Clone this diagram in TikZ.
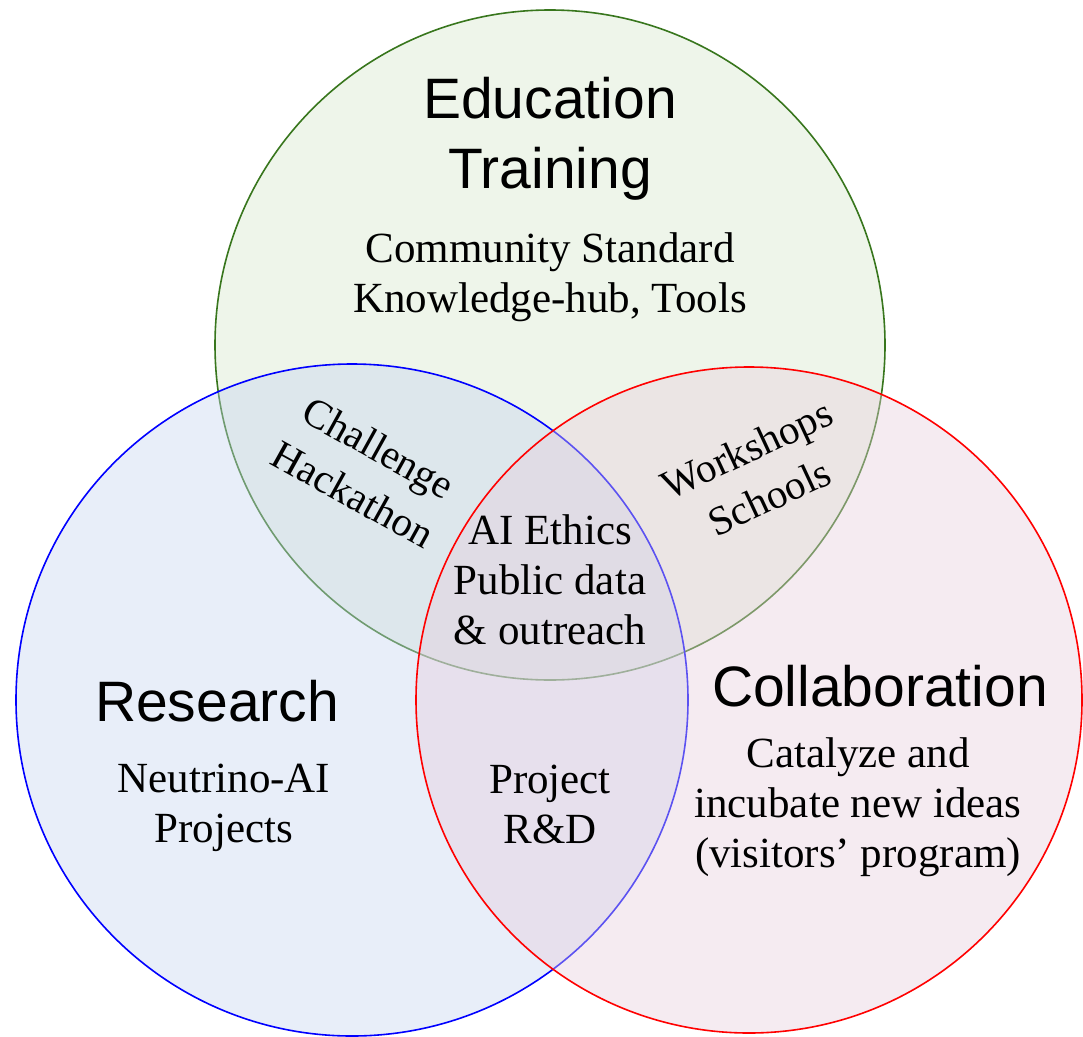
\documentclass[tikz,border=0pt]{standalone}
\usepackage{fontspec}
\setmainfont{Liberation Serif}
\setsansfont{Liberation Sans}
\definecolor{eduline}{RGB}{56,118,29}
\definecolor{edufill}{RGB}{212,230,202}
\definecolor{resfill}{RGB}{197,212,240}
\definecolor{colfill}{RGB}{230,205,220}
\begin{document}
\begin{tikzpicture}[x=1pt,y=-1pt,
        area/.style={line width=1.6pt, fill opacity=0.4},
        title/.style={font=\sffamily\fontsize{57}{70}\selectfont, align=center},
        body/.style={font=\fontsize{43}{50}\selectfont, align=center},
        tilted/.style={font=\fontsize{41}{53}\selectfont, align=center}]
        \useasboundingbox (0,0) rectangle (1083,1036);
        
        % Circles
        \draw[area, draw=eduline, fill=edufill] (550,345) circle[radius=335pt];
        \draw[area, draw=blue, fill=resfill] (352,700) circle[radius=336pt];
        \draw[area, draw=red, fill=colfill] (749,700) circle[radius=333pt];
        
        % Education
        \node[title] (edutitle) at (550,138.5) {Education\\Training};
        \node[body] (edutext) at (550,277.5) {Community Standard\\Knowledge-hub, Tools};
        
        % Research
        \node[title] (restitle) at (217,701.5) {Research};
        \node[body] (restext) at (224,808) {Neutrino-AI\\Projects};
        
        % Collaboration
        \node[title] (coltitle) at (880,686.5) {Collaboration};
        \node[body] (coltext) at (858,807) {Catalyze and\\incubate new ideas\\(visitors' program)};
        
        % Overlaps
        \node[tilted, rotate=-29] (hacktext) at (366,471) {Challenge\\Hackathon};
        \node[tilted, rotate=25] (worktext) at (758,473) {Workshops\\Schools};
        \node[body] (rdtext) at (550,804) {Project\\R\&D};
        \node[body] (alltext) at (550,580) {AI Ethics\\Public data\\\& outreach};
    \end{tikzpicture}
\end{document}
